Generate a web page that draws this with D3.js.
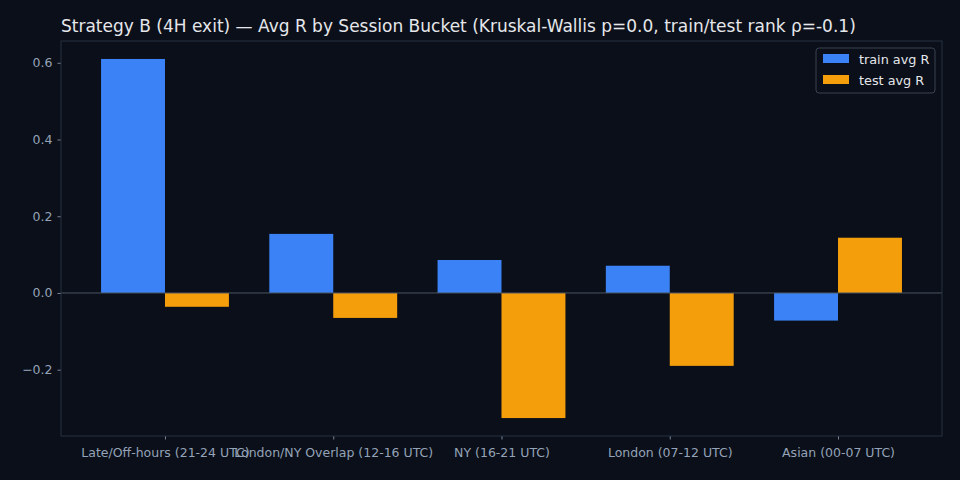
<!DOCTYPE html>
<html>
<head>
<meta charset="utf-8">
<script src="https://cdn.jsdelivr.net/npm/d3@7"></script>
<style>
  html, body { margin: 0; padding: 0; background: #0b0f19; }
  svg { display: block; font-family: "DejaVu Sans", sans-serif; }
</style>
</head>
<body>
<svg id="chart" width="960" height="480"></svg>
<script>
var categories = ["Late/Off-hours (21-24 UTC)", "London/NY Overlap (12-16 UTC)", "NY (16-21 UTC)", "London (07-12 UTC)", "Asian (00-07 UTC)"];
var trainAvgR = [0.61, 0.154, 0.086, 0.071, -0.072];
var testAvgR = [-0.036, -0.065, -0.326, -0.19, 0.144];
var yTicks = [-0.2, 0.0, 0.2, 0.4, 0.6];
var seriesNames = ["train avg R", "test avg R"];
var seriesColors = ["#3b82f6", "#f59e0b"];

var svg = d3.select("#chart");
var W = 960, H = 480;
var m = {left: 61, right: 18, top: 41, bottom: 44};
var pw = W - m.left - m.right, ph = H - m.top - m.bottom;
var barW = 0.38;

svg.append("rect").attr("width", W).attr("height", H).attr("fill", "#0b0f19");

var allVals = trainAvgR.concat(testAvgR);
var ymin = d3.min(allVals), ymax = d3.max(allVals);
var ypad = (ymax - ymin) * 0.05;
var y = d3.scaleLinear().domain([ymin - ypad, ymax + ypad]).range([m.top + ph, m.top]);

var xlo = -barW, xhi = categories.length - 1 + barW;
var xpad = (xhi - xlo) * 0.05;
var x = d3.scaleLinear().domain([xlo - xpad, xhi + xpad]).range([m.left, m.left + pw]);

var g = svg.append("g");

// bars
[trainAvgR, testAvgR].forEach(function(vals, si) {
  g.selectAll("rect.s" + si).data(vals).enter().append("rect")
    .attr("class", "s" + si)
    .attr("x", function(d, i) { return x(i + (si === 0 ? -barW : 0)); })
    .attr("width", x(barW) - x(0))
    .attr("y", function(d) { return y(Math.max(0, d)); })
    .attr("height", function(d) { return Math.abs(y(d) - y(0)); })
    .attr("fill", seriesColors[si]);
});

// zero line
g.append("line")
  .attr("x1", m.left).attr("x2", m.left + pw)
  .attr("y1", y(0)).attr("y2", y(0))
  .attr("stroke", "#4b5563").attr("stroke-width", 1);

// axes
var yAxis = d3.axisLeft(y).tickValues(yTicks).tickSize(3.5).tickPadding(5)
  .tickFormat(function(d) { return d3.format(".1f")(d).replace("-", "\u2212"); });
var yg = svg.append("g").attr("transform", "translate(" + m.left + ",0)").call(yAxis);

var xAxis = d3.axisBottom(x).tickValues(d3.range(categories.length)).tickSize(3.5).tickPadding(9)
  .tickFormat(function(d) { return categories[d]; });
var xg = svg.append("g").attr("transform", "translate(0," + (m.top + ph) + ")").call(xAxis);

[yg, xg].forEach(function(a) {
  a.attr("font-family", "DejaVu Sans, sans-serif").attr("font-size", 12.5);
  a.select(".domain").remove();
  a.selectAll(".tick line").attr("stroke", "#94a3b8").attr("stroke-width", 0.8);
  a.selectAll(".tick text").attr("fill", "#94a3b8");
});

// spines
svg.append("rect")
  .attr("x", m.left).attr("y", m.top).attr("width", pw).attr("height", ph)
  .attr("fill", "none").attr("stroke", "#263042").attr("stroke-width", 1);

// title
svg.append("text")
  .attr("x", m.left).attr("y", 32)
  .attr("fill", "#e5e7eb").style("font-size", "17px")
  .text("Strategy B (4H exit) \u2014 Avg R by Session Bucket (Kruskal-Wallis p=0.0, train/test rank \u03c1=-0.1)");

// legend
var lg = svg.append("g").attr("transform", "translate(816,48)");
lg.append("rect").attr("width", 119).attr("height", 45).attr("rx", 3)
  .attr("fill", "#0b0f19").attr("stroke", "#3a4250").attr("stroke-width", 1);
seriesNames.forEach(function(name, i) {
  var row = lg.append("g").attr("transform", "translate(0," + (11 + i * 21) + ")");
  row.append("rect").attr("x", 7).attr("y", -5).attr("width", 26).attr("height", 9).attr("fill", seriesColors[i]);
  row.append("text").attr("x", 43).attr("y", 4.5).attr("fill", "#e5e7eb").style("font-size", "12.8px").text(name);
});
</script>
</body>
</html>
